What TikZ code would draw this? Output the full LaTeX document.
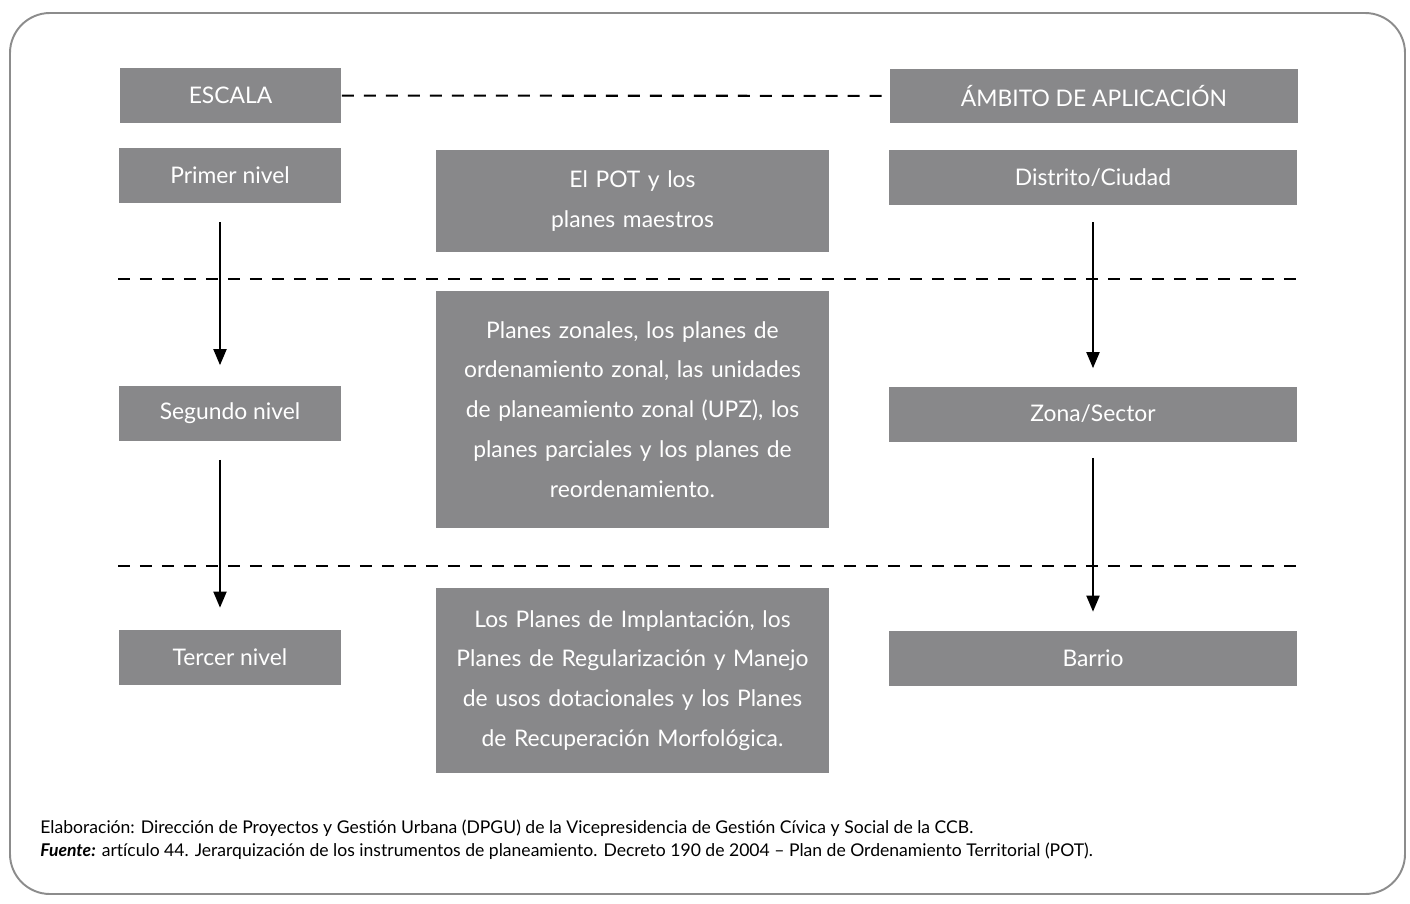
\documentclass[tikz,border=0pt]{standalone}
\usepackage{fontspec}
\setmainfont{Lato}[Ligatures=NoCommon]
\usepackage{tikz}
\usetikzlibrary{arrows.meta, positioning, calc}
\definecolor{cajaGris}{HTML}{88888A}
\definecolor{bordeGris}{HTML}{8C8C8C}

\begin{document}
\begin{tikzpicture}[
    x=0.02cm, y=-0.02cm,
    lado/.style={rectangle, fill=cajaGris, text=white, minimum width=4.44cm,
                 minimum height=1.1cm, inner sep=0pt, font=\fontsize{13}{15}\selectfont},
    ambito/.style={lado, minimum width=8.16cm},
    plan/.style={rectangle, fill=cajaGris, text=white, minimum width=7.86cm,
                 text width=7.6cm, align=center, inner sep=0pt,
                 font=\fontsize{13}{22.7}\selectfont},
    arrow/.style={-{Triangle[length=0.32cm, width=0.26cm]}, line width=1.1pt},
    sep/.style={dash pattern=on 0.24cm off 0.2cm, line width=1.2pt},
    nota/.style={anchor=base west, inner sep=0pt, font=\fontsize{10}{13}\selectfont}
]
    \useasboundingbox (0,0) rectangle (1410,903);
    \draw[bordeGris, line width=1.1pt, rounded corners=0.8cm] (10,13) rectangle (1405,894);

    % columna izquierda
    \node[lado] (esc)  at (230.5,95.5) {ESCALA};
    \node[lado] (n1)   at (230,175.5)  {Primer nivel};
    \node[lado] (n2)   at (230,413)    {Segundo nivel};
    \node[lado] (n3)   at (230,657.5)  {Tercer nivel};

    % columna derecha
    \node[ambito] (amb) at (1094,96)    {ÁMBITO DE APLICACIÓN};
    \node[ambito] (dis) at (1093,177.5) {Distrito/Ciudad};
    \node[ambito] (zon) at (1093,414)   {Zona/Sector};
    \node[ambito] (bar) at (1093,658.5) {Barrio};

    % instrumentos
    \node[plan, minimum height=2.04cm] (pot) at (632.5,201)
        {El POT y los\\planes maestros};
    \node[plan, minimum height=4.74cm] (zonales) at (632.5,409.5)
        {Planes zonales, los planes de\\ordenamiento zonal, las unidades\\de planeamiento zonal (UPZ), los\\planes parciales y los planes de\\reordenamiento.};
    \node[plan, minimum height=3.7cm] (impl) at (632.5,680.5)
        {Los Planes de Implantación, los\\Planes de Regularización y Manejo\\de usos dotacionales y los Planes\\de Recuperación Morfológica.};

    \draw[sep] (esc) -- (amb);
    \draw[sep] (118,279) -- (1300,279);
    \draw[sep] (118,566) -- (1300,566);

    \draw[arrow, shorten <=0.38cm, shorten >=0.4cm] ([xshift=-0.2cm]n1.south) -- ([xshift=-0.2cm]n2.north);
    \draw[arrow, shorten <=0.38cm, shorten >=0.44cm] ([xshift=-0.2cm]n2.south) -- ([xshift=-0.2cm]n3.north);
    \draw[arrow, shorten <=0.34cm, shorten >=0.36cm] (dis) -- (zon);
    \draw[arrow, shorten <=0.32cm, shorten >=0.38cm] (zon) -- (bar);

    \node[nota] (elab) at (40,833)
        {Elaboración: Dirección de Proyectos y Gestión Urbana (DPGU) de la Vicepresidencia de Gestión Cívica y Social de la CCB.};
    \node[nota] (fuente) at (40,856)
        {\textbf{\textit{Fuente:}} artículo 44. Jerarquización de los instrumentos de planeamiento. Decreto 190 de 2004 – Plan de Ordenamiento Territorial (POT).};
\end{tikzpicture}
\end{document}
